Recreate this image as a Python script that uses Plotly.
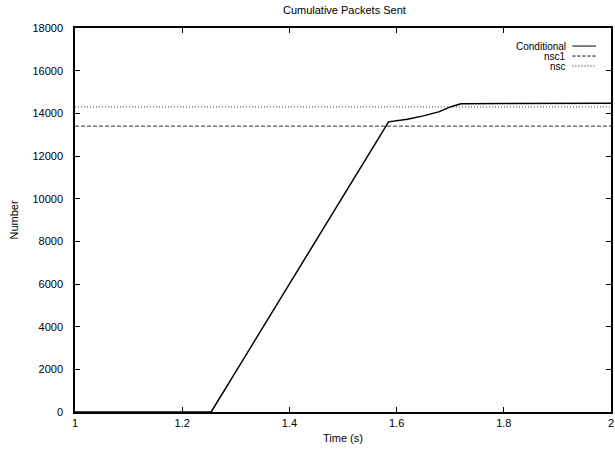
import plotly.graph_objects as go

# Data
cond_x = [1.0, 1.254, 1.585, 1.62, 1.65, 1.68, 1.70, 1.72, 1.80, 1.90, 2.0]
cond_y = [0, 0, 13600, 13720, 13880, 14080, 14300, 14450, 14460, 14460, 14470]
nsc1_x = [1.0, 2.0]
nsc1_y = [13400, 13400]
nsc_x = [1.0, 2.0]
nsc_y = [14300, 14300]
legend_names = ["Conditional", "nsc1", "nsc"]
legend_dashes = ["solid", "dash", "dot"]
x_ticks = [1, 1.2, 1.4, 1.6, 1.8, 2]
x_tick_labels = ["1", "1.2", "1.4", "1.6", "1.8", "2"]
y_ticks = [0, 2000, 4000, 6000, 8000, 10000, 12000, 14000, 16000, 18000]

FONT = "Liberation Sans, Arial, sans-serif"

fig = go.Figure()
fig.add_trace(go.Scatter(x=cond_x, y=cond_y, mode="lines", name=legend_names[0],
                         line=dict(color="black", width=1.5, dash="solid")))
fig.add_trace(go.Scatter(x=nsc1_x, y=nsc1_y, mode="lines", name=legend_names[1],
                         line=dict(color="#333", width=1, dash="4px,2px")))
fig.add_trace(go.Scatter(x=nsc_x, y=nsc_y, mode="lines", name=legend_names[2],
                         line=dict(color="#444", width=1, dash="1px,2px")))

# manual gnuplot-style legend: text right-aligned, sample line to the right
ys = [0.953, 0.927, 0.901]
dash_map = {"solid": "solid", "dash": "3px,2px", "dot": "1px,2px"}
for name, d, yy in zip(legend_names, legend_dashes, ys):
    fig.add_annotation(x=0.92, y=yy, xref="paper", yref="paper", text=name,
                       showarrow=False, xanchor="right", yanchor="middle",
                       font=dict(family=FONT, size=10, color="black"))
    fig.add_shape(type="line", xref="paper", yref="paper", x0=0.928, x1=0.972,
                  y0=yy, y1=yy, line=dict(color="black", width=1, dash=dash_map[d]))

axis_common = dict(showgrid=False, zeroline=False, showline=True, linecolor="black",
                   linewidth=1.5, mirror="allticks", ticks="inside", ticklen=5,
                   tickcolor="black", tickwidth=1, ticklabeloverflow="allow",
                   tickfont=dict(family=FONT, size=11, color="black"))

fig.update_xaxes(range=[1, 2], tickmode="array", tickvals=x_ticks, ticktext=x_tick_labels,
                 title=dict(text="Time (s)", font=dict(family=FONT, size=11, color="black"),
                            standoff=6),
                 **axis_common)
fig.update_yaxes(range=[0, 18000], tickmode="array", tickvals=y_ticks,
                 ticktext=[str(v) for v in y_ticks], ticklabelstandoff=8,
                 title=dict(text="Number", font=dict(family=FONT, size=11, color="black"),
                            standoff=12),
                 **axis_common)

fig.update_layout(
    width=615, height=451,
    margin=dict(l=75, r=1, t=28, b=39),
    paper_bgcolor="white", plot_bgcolor="white",
    showlegend=False,
    title=dict(text="Cumulative Packets Sent", x=0.56, xanchor="center", y=0.978,
               yanchor="middle", font=dict(family=FONT, size=11, color="black")),
)

fig.write_html("out.html")
